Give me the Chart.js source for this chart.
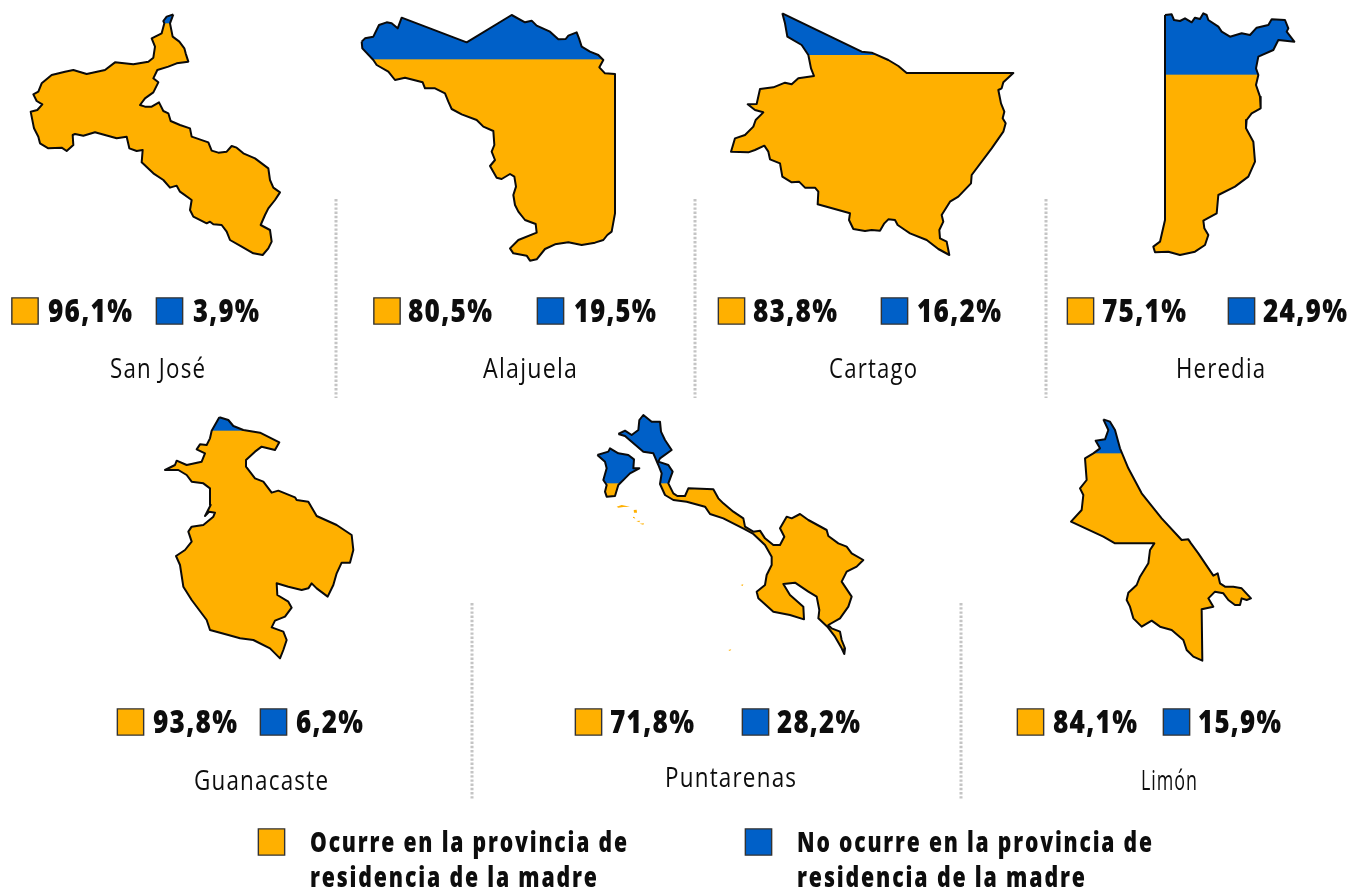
<!DOCTYPE html>
<html><head><meta charset="utf-8">
<style>html,body{margin:0;padding:0;background:#fff}canvas{display:block}</style>
<script src="https://cdn.jsdelivr.net/npm/chart.js@4"></script></head>
<body><canvas id="c" width="1351" height="890"></canvas>
<script>
const provinces = ['San José','Alajuela','Cartago','Heredia','Guanacaste','Puntarenas','Limón'];
const occursPct = [96.1,80.5,83.8,75.1,93.8,71.8,84.1];
const elsewherePct = [3.9,19.5,16.2,24.9,6.2,28.2,15.9];
const legendLabels = [['Ocurre en la provincia de','residencia de la madre'],['No ocurre en la provincia de','residencia de la madre']];

// Province outlines, in local map units (x,y,x,y,...)
const sanJoseOutline = [460,28,450,55,458,95,478,110,493,130,497,145,505,170,470,175,445,185,412,195,400,220,415,232,400,262,375,280,360,300,375,305,395,305,417,292,430,318,445,325,452,348,480,360,510,370,515,395,565,412,575,437,595,443,620,440,635,423,650,428,670,445,705,460,745,490,750,525,760,548,780,562,765,585,745,610,735,630,722,660,750,675,755,710,745,730,728,750,700,745,665,725,630,705,620,680,605,660,580,658,570,650,560,655,520,635,510,615,515,585,480,560,470,542,450,548,430,525,400,505,365,472,368,435,350,438,328,430,320,395,290,400,225,382,190,392,165,387,158,390,160,420,140,438,125,428,85,430,60,415,55,395,42,370,32,320,52,315,67,298,50,288,40,268,55,260,65,235,95,210,135,200,160,195,200,207,255,195,285,172,340,178,385,170,400,158,405,125,395,100,425,85,433,55,430,48,440,35,460,28];
const alajuelaOutline = [20,110,30,100,55,95,72,60,95,52,110,55,128,70,140,38,335,112,470,30,510,52,530,47,545,62,585,80,610,103,632,102,640,92,665,82,672,100,680,125,705,140,730,150,745,165,733,187,750,205,780,207,780,625,770,680,757,690,745,705,720,713,680,720,640,712,600,718,570,732,545,763,525,767,515,752,475,745,465,730,490,705,545,683,542,657,510,645,490,620,480,600,475,570,483,545,478,515,465,507,440,522,425,518,405,483,420,465,410,440,418,420,415,378,385,365,365,345,320,328,290,312,280,290,270,265,240,250,210,250,203,232,150,218,120,225,100,200,65,180,55,165,22,130,20,110];
const cartagoOutline = [172,25,410,140,440,143,490,165,520,183,545,204,865,204,835,232,830,250,820,255,828,295,838,320,833,340,842,355,835,380,800,430,740,510,738,535,700,575,675,590,650,630,655,650,643,675,645,700,665,710,673,750,640,732,605,705,555,685,540,675,518,660,510,645,490,643,478,655,465,677,440,675,420,678,385,672,372,645,375,625,340,615,278,598,280,560,270,548,240,548,222,530,200,532,172,515,165,475,135,463,130,440,118,422,90,435,70,442,18,440,30,400,60,390,85,365,92,345,115,322,90,315,68,298,95,297,105,252,145,247,180,233,200,238,220,220,267,213,258,190,250,150,230,120,187,95,180,55,172,25];
const herediaOutline = [60,30,80,28,87,45,105,48,120,40,140,52,150,38,165,42,175,25,185,30,190,45,220,65,230,80,255,95,290,85,315,90,335,68,370,60,380,43,420,45,430,70,425,80,448,110,400,105,385,135,340,155,333,190,340,210,333,240,345,275,347,310,320,325,305,345,303,370,325,410,330,470,310,515,270,545,220,570,215,625,175,647,178,670,190,690,180,720,150,740,105,750,70,740,30,742,25,725,45,710,60,645,60,30];
const guanacasteOutline = [178,22,205,30,220,48,250,60,300,68,358,97,345,120,305,110,285,125,258,150,258,170,285,205,310,215,335,248,355,242,405,262,410,270,445,275,470,318,530,345,575,375,580,420,570,458,545,458,530,490,520,525,503,560,470,535,455,520,445,535,425,540,385,530,350,520,352,555,385,575,395,593,375,620,345,632,335,652,370,665,380,690,370,720,360,745,330,715,280,690,240,685,205,675,150,660,140,630,95,570,70,530,60,465,48,438,75,420,95,395,85,365,95,350,130,345,160,320,165,308,148,305,135,318,152,285,150,235,130,220,95,215,80,195,55,180,15,180,45,165,50,152,80,165,125,155,135,130,110,118,120,103,140,105,150,85,155,62,178,22];
const puntarenasMainOutline = [85,72,105,62,125,75,145,60,148,30,160,15,185,35,210,35,213,65,225,90,245,120,210,145,205,155,235,165,248,185,235,220,250,250,262,258,285,258,295,235,370,238,385,265,400,280,430,305,460,325,465,350,490,365,510,362,525,385,550,405,570,405,583,380,570,355,590,320,605,325,630,312,655,330,710,360,715,378,745,400,770,410,785,430,820,450,800,470,770,485,755,515,785,560,775,590,750,625,715,645,725,655,750,665,755,690,765,715,763,732,755,715,735,680,712,650,685,625,688,600,680,560,655,545,615,518,580,522,600,555,640,590,642,628,600,615,550,605,505,565,500,545,525,525,530,495,545,465,545,440,525,405,490,372,465,358,400,325,360,312,345,290,290,275,250,270,225,255,210,222,215,190,205,165,190,130,160,125,125,95,105,78,85,72];
const puntarenasNicoyaOutline = [22,135,55,125,60,115,85,130,115,135,132,148,130,175,148,175,120,190,105,205,85,225,75,258,50,260,45,245,50,225,40,210,50,175,45,155,22,135];
const puntarenasIslets = [[80,290,95,285,120,290,100,291,85,293,80,290],[131,300,140,299,141,308,132,308,131,300],[129,320,134,322,136,326,131,324,129,320],[139,333,150,332,148,337,139,333],[149,341,162,340,160,344,149,341],[452,525,460,523,458,528,452,525],[415,720,424,718,420,723,415,720]];
const limonOutline = [115,28,135,35,150,60,165,115,190,175,230,250,290,325,350,390,370,388,378,400,400,430,445,497,458,490,465,520,480,530,505,530,530,535,558,565,545,570,530,565,525,585,510,585,490,570,475,550,450,545,430,565,445,590,410,598,412,752,385,740,365,720,355,690,320,660,285,650,260,632,230,650,205,625,195,590,185,570,190,548,215,525,225,500,250,460,255,420,268,400,150,400,115,380,18,335,50,300,55,255,45,235,65,210,60,145,85,130,105,115,92,92,120,88,130,60,115,28];
// height (map units) where the blue part ends
const splitLevels = [55,163,150,209,62,220,130];

const ORANGE='#FFB000', BLUE='#0060C8', EDGE='#0a0a0a', INK='#0d0d0d';
const mapOrigins = [[20,5],[355,5],[725,5],[1145,5],[160,410],[590,410],[1065,410]];
const shapeSets = [[sanJoseOutline],[alajuelaOutline],[cartagoOutline],[herediaOutline],[guanacasteOutline],[puntarenasMainOutline,puntarenasNicoyaOutline],[limonOutline]];
// swatch/label layout per province: [orange swatch x, text left, text right, blue swatch x, text left, text right, name left, name right]
const rows = [
 {sy:311,py:322,ny:378,cols:[25,48,132,169.5,193,259,110,205]},
 {sy:311,py:322,ny:378,cols:[387,408,492,550.5,574,656,483,577]},
 {sy:311,py:322,ny:378,cols:[731.5,753,837,894.5,917,1001,829,917]},
 {sy:311,py:322,ny:378,cols:[1080.5,1102,1186,1241.5,1263,1347,1176,1265]},
 {sy:722,py:733,ny:790,cols:[130.5,153,237,273.5,296,363,194,328]},
 {sy:722,py:733,ny:787,cols:[588.5,610,694,755.5,777,860,665,796]},
 {sy:722,py:733,ny:790,cols:[1030.5,1053,1137,1176.5,1198,1281,1141,1197]}
];
const separators = [[336,199,398],[695,199,398],[1046,199,398],[472,603,800],[961,603,800]];

const toPoints = (flat,o)=>{const p=[];for(let i=0;i<flat.length;i+=2)p.push({x:o[0]+flat[i]/3,y:o[1]+flat[i+1]/3});return p;};
const datasets=[];
shapeSets.forEach((parts,i)=>{
  const o=mapOrigins[i], splitY=o[1]+splitLevels[i]/3;
  parts.forEach(flat=>datasets.push({
    data:toPoints(flat,o),showLine:true,fill:'shape',tension:0,pointRadius:0,
    borderColor:EDGE,borderWidth:2,borderJoinStyle:'round',
    backgroundColor:c=>{
      const s=c.chart.scales.y; if(!s) return ORANGE;
      const py=s.getPixelForValue(splitY);
      if(!Number.isFinite(py)) return ORANGE;
      const g=c.chart.ctx.createLinearGradient(0,py-0.5,0,py+0.5);
      g.addColorStop(0,BLUE);g.addColorStop(1,ORANGE);return g;
    }
  }));
});
puntarenasIslets.forEach(flat=>datasets.push({data:toPoints(flat,mapOrigins[5]),showLine:true,fill:'shape',tension:0,pointRadius:0,borderWidth:0,borderColor:'rgba(0,0,0,0)',backgroundColor:'#FFB000'}));
separators.forEach(s=>datasets.push({data:[{x:s[0],y:s[1]},{x:s[0],y:s[2]}],showLine:true,fill:false,pointRadius:0,borderColor:'#c4c4c4',borderWidth:3,borderDash:[2.4,1.8]}));
const swatch=(pts,color)=>({data:pts,showLine:false,pointStyle:'rect',pointRadius:18.6,pointBorderWidth:1.4,pointBorderColor:'#333',pointBackgroundColor:color,pointHoverRadius:18.6});
datasets.push(swatch(rows.map(r=>({x:r.cols[0],y:r.sy})).concat([{x:271.5,y:842}]),ORANGE));
datasets.push(swatch(rows.map(r=>({x:r.cols[3],y:r.sy})).concat([{x:758.5,y:842}]),BLUE));

const pct=v=>v.toFixed(1).replace('.',',')+'%';
const labelPlugin={id:'labels',afterDatasetsDraw(chart){
  const c=chart.ctx,X=chart.scales.x,Y=chart.scales.y;
  const put=(t,x0,x1,y,size,weight,ls)=>{
    c.save();c.font=`${weight} ${size}px "Open Sans"`;c.letterSpacing=ls+'px';c.fillStyle=INK;c.textBaseline='alphabetic';c.textAlign='left';
    const px0=X.getPixelForValue(x0),px1=X.getPixelForValue(x1),w=c.measureText(t).width-ls;
    c.translate(px0,Y.getPixelForValue(y));c.scale((px1-px0)/w,1);c.fillText(t,0,0);c.restore();
  };
  provinces.forEach((n,i)=>{const r=rows[i],k=r.cols;
    put(pct(occursPct[i]),k[1],k[2],r.py,31,800,1.5);
    put(pct(elsewherePct[i]),k[4],k[5],r.py,31,800,1.5);
    put(n,k[6],k[7],r.ny,28,400,1.5);
  });
  put(legendLabels[0][0],310,627,852,29,800,2.5);
  put(legendLabels[0][1],310,597,887,29,800,2.5);
  put(legendLabels[1][0],797,1152,852,29,800,2.5);
  put(legendLabels[1][1],797,1085,887,29,800,2.5);
}};

new Chart(document.getElementById('c'),{type:'scatter',data:{datasets},plugins:[labelPlugin],options:{
  responsive:false,animation:false,layout:{padding:0,autoPadding:false},events:[],
  plugins:{legend:{display:false},tooltip:{enabled:false},title:{display:false}},
  scales:{x:{type:'linear',min:0,max:1351,display:false},y:{type:'linear',min:0,max:890,reverse:true,display:false}}
}});
</script></body></html>
